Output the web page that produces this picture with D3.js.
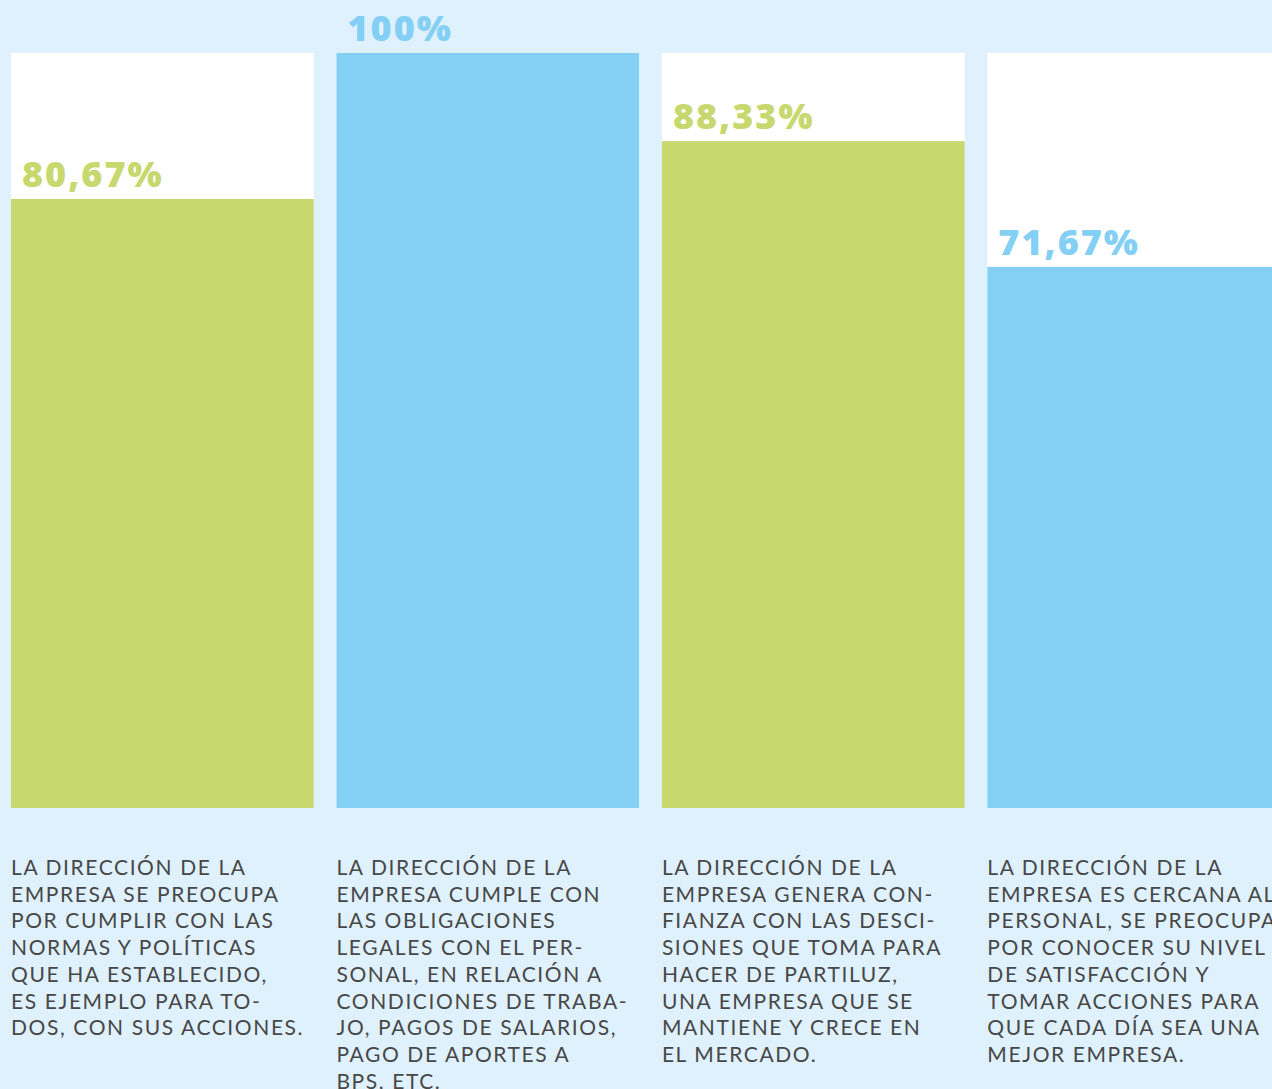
<!DOCTYPE html>
<html><head><meta charset="utf-8">
<script src="https://cdn.jsdelivr.net/npm/d3@7"></script>
<style>html,body{margin:0;padding:0;background:#dff1fd;overflow:hidden}</style>
</head><body>
<svg id="c" width="1272" height="1089"></svg>
<script>
const categories = ["C1","C2","C3","C4"];
const values = [80.67, 100, 88.33, 71.67];
const valueLabels = ["80,67%","100%","88,33%","71,67%"];
const colors = ["#c7d86f","#84d0f5","#c7d86f","#84d0f5"];
const descriptions = [
 ["LA DIRECCIÓN DE LA","EMPRESA SE PREOCUPA","POR CUMPLIR CON LAS","NORMAS Y POLÍTICAS","QUE HA ESTABLECIDO,","ES EJEMPLO PARA TO-","DOS, CON SUS ACCIONES."],
 ["LA DIRECCIÓN DE LA","EMPRESA CUMPLE CON","LAS OBLIGACIONES","LEGALES CON EL PER-","SONAL, EN RELACIÓN A","CONDICIONES DE TRABA-","JO, PAGOS DE SALARIOS,","PAGO DE APORTES A","BPS, ETC."],
 ["LA DIRECCIÓN DE LA","EMPRESA GENERA CON-","FIANZA CON LAS DESCI-","SIONES QUE TOMA PARA","HACER DE PARTILUZ,","UNA EMPRESA QUE SE","MANTIENE Y CRECE EN","EL MERCADO."],
 ["LA DIRECCIÓN DE LA","EMPRESA ES CERCANA AL","PERSONAL, SE PREOCUPA","POR CONOCER SU NIVEL","DE SATISFACCIÓN Y","TOMAR ACCIONES PARA","QUE CADA DÍA SEA UNA","MEJOR EMPRESA."]
];
const svg = d3.select("#c");
const x = d3.scaleBand().domain(categories).range([11, 1290]).paddingInner(0.07).paddingOuter(0);
const y = d3.scaleLinear().domain([0, 100]).range([808, 53]);

const g = svg.selectAll("g.col").data(categories).join("g").attr("class","col");
g.append("rect").attr("x", d=>x(d)).attr("width", x.bandwidth())
  .attr("y", y(100)).attr("height", y(0)-y(100)).attr("fill","#ffffff");
g.append("rect").attr("x", d=>x(d)).attr("width", x.bandwidth())
  .attr("y", (d,i)=>y(values[i])).attr("height", (d,i)=>y(0)-y(values[i]))
  .attr("fill", (d,i)=>colors[i]);
g.append("text").attr("x", d=>x(d)+11).attr("y", (d,i)=>y(values[i])-12)
  .attr("fill",(d,i)=>colors[i]).attr("font-family","Open Sans, sans-serif")
  .attr("font-weight",800).attr("font-size",36).attr("letter-spacing",2)
  .text((d,i)=>valueLabels[i]);
g.each(function(d,i){
  const t = d3.select(this).append("text").attr("fill","#474747")
    .attr("font-family","Lato, sans-serif").attr("font-size",21).attr("letter-spacing",1.6);
  t.selectAll("tspan").data(descriptions[i]).join("tspan")
    .attr("x", x(d)).attr("y", (l,j)=>875 + j*26.7).text(l=>l);
});
</script>
</body></html>
